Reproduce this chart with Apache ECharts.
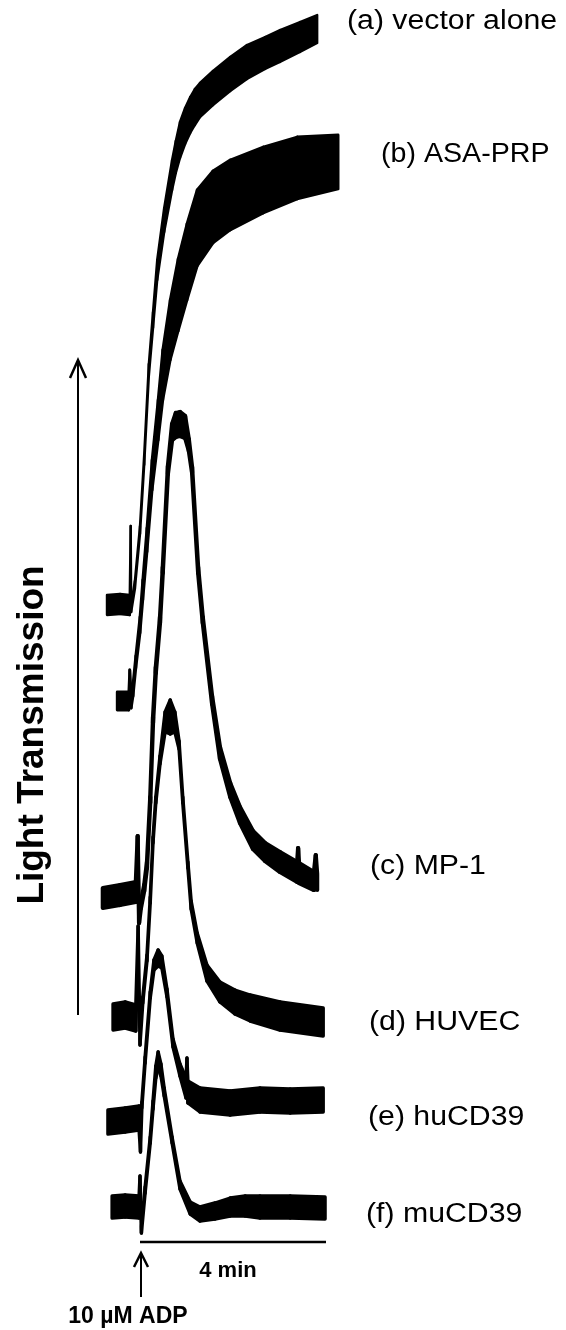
<!DOCTYPE html>
<html>
<head>
<meta charset="utf-8">
<script src="https://cdn.jsdelivr.net/npm/echarts@6/dist/echarts.min.js"></script>
<style>
  html, body { margin: 0; padding: 0; background: #fff; }
  #chart { width: 566px; height: 1330px; }
</style>
</head>
<body>
<div id="chart"></div>
<script>
// Time in minutes from ADP addition; transmission in arbitrary units; noise = half-width of the noisy band
const traceLabels = ['(a) vector alone', '(b) ASA-PRP', '(c) MP-1', '(d) HUVEC', '(e) huCD39', '(f) muCD39'];

const timeA  = [-0.71, -0.43, -0.22, -0.20, -0.19, -0.11, 0, 0.09, 0.19, 0.28, 0.37, 0.52, 0.69, 0.77, 0.86, 0.97, 1.08, 1.18, 1.29, 1.57, 1.94, 2.30, 2.69, 3.01, 3.44, 3.81];
const levelA = [64.5, 64.6, 64.5, 72.2, 64.2, 66.5, 72.0, 79.0, 88.0, 93.0, 98.0, 103.0, 107.5, 109.3, 111.0, 112.4, 113.5, 114.3, 115.0, 116.2, 117.6, 118.8, 119.7, 120.4, 121.3, 122.1];
const noiseA = [1.0, 1.0, 1.0, 0.2, 0.4, 0.4, 0.4, 0.5, 0.6, 0.8, 1.0, 1.2, 1.5, 1.6, 1.8, 1.8, 1.8, 1.8, 1.7, 1.7, 1.7, 1.7, 1.6, 1.6, 1.5, 1.4];

const timeB  = [-0.49, -0.24, -0.22, -0.19, -0.15, -0.09, 0, 0.06, 0.15, 0.26, 0.39, 0.49, 0.65, 0.82, 1.01, 1.23, 1.57, 1.94, 2.65, 3.38, 4.26];
const levelB = [54.9, 54.9, 57.8, 55.0, 56.0, 58.8, 62.5, 66.0, 71.0, 77.5, 83.0, 87.5, 92.0, 95.5, 98.8, 102.2, 104.3, 105.5, 107.0, 108.2, 108.8];
const noiseB = [0.9, 0.9, 0.2, 0.8, 0.6, 0.6, 0.8, 1.0, 1.2, 1.5, 2.0, 2.5, 3.0, 3.6, 3.8, 3.8, 3.6, 3.5, 3.3, 3.1, 2.7];

const timeC  = [-0.80, -0.43, -0.09, -0.05, -0.02, 0.02, 0.09, 0.15, 0.22, 0.28, 0.34, 0.43, 0.49, 0.60, 0.69, 0.77, 0.86, 0.97, 1.05, 1.12, 1.25, 1.35, 1.55, 1.72, 1.94, 2.15, 2.43, 2.69, 3.01, 3.38, 3.40, 3.42, 3.74, 3.78, 3.81];
const levelC = [35.2, 35.5, 35.8, 41.2, 33.0, 34.5, 36.2, 38.5, 45.0, 53.0, 58.0, 63.0, 68.0, 78.0, 81.8, 82.5, 82.6, 82.3, 80.5, 78.0, 68.0, 63.0, 55.0, 49.7, 46.0, 43.5, 41.0, 39.8, 38.8, 37.8, 40.0, 37.7, 36.9, 39.3, 36.8];
const noiseC = [1.0, 1.0, 1.0, 0.2, 0.3, 0.3, 0.3, 0.3, 0.3, 0.3, 0.3, 0.3, 0.3, 0.4, 0.8, 1.2, 1.2, 1.1, 0.6, 0.3, 0.3, 0.3, 0.4, 0.6, 0.7, 0.8, 0.9, 0.9, 1.0, 1.0, 0.2, 1.0, 0.9, 0.2, 0.8];

const timeD  = [-0.58, -0.32, -0.09, -0.04, 0, 0.06, 0.15, 0.22, 0.28, 0.34, 0.43, 0.54, 0.65, 0.75, 0.84, 0.92, 1.03, 1.10, 1.23, 1.44, 1.72, 2.04, 2.37, 3.01, 3.94];
const levelD = [23.3, 23.5, 23.2, 32.2, 20.8, 25.0, 29.2, 35.0, 41.0, 45.0, 49.0, 52.8, 53.3, 52.8, 50.5, 45.0, 38.5, 34.5, 31.2, 27.7, 25.8, 24.8, 24.2, 23.4, 22.8];
const noiseD = [1.3, 1.3, 1.3, 0.2, 0.3, 0.3, 0.3, 0.3, 0.3, 0.3, 0.4, 1.0, 1.7, 1.0, 0.4, 0.3, 0.3, 0.4, 0.5, 0.8, 1.0, 1.2, 1.3, 1.4, 1.4];

const timeE  = [-0.69, -0.32, -0.02, 0.01, 0.04, 0.11, 0.22, 0.30, 0.39, 0.47, 0.58, 0.71, 0.86, 0.99, 1.01, 1.03, 1.29, 1.94, 2.58, 3.23, 3.94];
const levelE = [12.8, 13.0, 13.2, 10.0, 14.5, 19.0, 25.5, 28.5, 29.2, 28.8, 25.7, 20.7, 18.0, 16.2, 19.0, 15.8, 15.0, 14.7, 15.0, 14.9, 15.0];
const noiseE = [1.2, 1.2, 1.2, 0.2, 0.3, 0.3, 0.3, 0.5, 0.8, 0.6, 0.4, 0.4, 0.6, 1.0, 0.2, 1.1, 1.2, 1.2, 1.2, 1.2, 1.2];

const timeF  = [-0.60, -0.32, -0.02, 0, 0.03, 0.11, 0.22, 0.28, 0.34, 0.39, 0.45, 0.52, 0.69, 0.86, 1.08, 1.29, 1.61, 1.94, 2.26, 2.58, 3.23, 3.98];
const levelF = [4.3, 4.4, 4.3, 7.2, 2.0, 6.0, 11.0, 14.5, 17.8, 19.0, 18.0, 15.8, 11.0, 6.5, 4.2, 3.6, 3.9, 4.3, 4.4, 4.3, 4.3, 4.2];
const noiseF = [1.1, 1.1, 1.1, 0.2, 0.3, 0.3, 0.3, 0.4, 0.6, 0.8, 0.6, 0.4, 0.3, 0.4, 0.6, 0.7, 0.8, 0.9, 1.0, 1.1, 1.1, 1.1];

// 4-minute scale bar
const scaleBarTime = [0, 4];
const scaleBarLevel = 0.8;

const traces = [
  [timeA, levelA, noiseA], [timeB, levelB, noiseB], [timeC, levelC, noiseC],
  [timeD, levelD, noiseD], [timeE, levelE, noiseE], [timeF, levelF, noiseF]
];
const strokeWidths = [2.4, 2.8, 4.2, 3.4, 3.4, 3.4];

// Each trace is drawn as a noisy band: consecutive samples form a quad between (level - noise) and (level + noise)
function bandSegments(t, lv, nz) {
  const out = [];
  for (let i = 0; i < t.length - 1; i++) {
    out.push([t[i], lv[i] - nz[i], lv[i] + nz[i], t[i + 1], lv[i + 1] - nz[i + 1], lv[i + 1] + nz[i + 1]]);
  }
  return out;
}

function makeRender(width) {
  return function (params, api) {
    const a = api.coord([api.value(0), api.value(1)]);
    const b = api.coord([api.value(0), api.value(2)]);
    const c = api.coord([api.value(3), api.value(5)]);
    const d = api.coord([api.value(3), api.value(4)]);
    return {
      type: 'polygon',
      shape: { points: [a, b, c, d] },
      style: { fill: '#000', stroke: '#000', lineWidth: width, lineJoin: 'round' }
    };
  };
}

const series = traces.map(function (tr, k) {
  return {
    type: 'custom', name: traceLabels[k], silent: true, clip: false,
    renderItem: makeRender(strokeWidths[k]),
    dimensions: ['t0', 'lo0', 'hi0', 't1', 'lo1', 'hi1'],
    encode: { x: [0, 3], y: [1, 2, 4, 5] },
    data: bandSegments(tr[0], tr[1], tr[2])
  };
});
series.push({
  type: 'line', name: '4 min', symbol: 'none', silent: true,
  data: scaleBarTime.map(function (x) { return [x, scaleBarLevel]; }),
  lineStyle: { color: '#000', width: 2.5 }
});

const labelFont = '27px "Liberation Sans", Arial, sans-serif';
const labelPos = [[347, 22], [381, 155], [370, 867], [369, 1023], [368, 1118], [366, 1215]];
const graphics = traceLabels.map(function (txt, i) {
  return {
    type: 'text', x: labelPos[i][0], y: labelPos[i][1], scaleX: i === 1 ? 1.06 : 1.12,
    style: { text: txt, font: labelFont, fill: '#000', textAlign: 'left', textVerticalAlign: 'middle' }
  };
});
graphics.push(
  { type: 'text', x: 33, y: 735, rotation: Math.PI / 2,
    style: { text: 'Light Transmission', font: 'bold 37px "Liberation Sans", Arial, sans-serif', fill: '#000', textAlign: 'center', textVerticalAlign: 'middle' } },
  { type: 'polyline', shape: { points: [[78, 1015], [78, 361]] }, style: { stroke: '#000', lineWidth: 2, fill: null } },
  { type: 'polyline', shape: { points: [[70, 378], [78, 360], [86, 378]] }, style: { stroke: '#000', lineWidth: 2.5, fill: null } },
  { type: 'polyline', shape: { points: [[141, 1297], [141, 1254]] }, style: { stroke: '#000', lineWidth: 2, fill: null } },
  { type: 'polyline', shape: { points: [[134, 1267], [141, 1253], [148, 1267]] }, style: { stroke: '#000', lineWidth: 2.5, fill: null } },
  { type: 'text', x: 228, y: 1271, style: { text: '4 min', font: 'bold 22px "Liberation Sans", Arial, sans-serif', fill: '#000', textAlign: 'center', textVerticalAlign: 'middle' } },
  { type: 'text', x: 128, y: 1317, style: { text: '10 µM ADP', font: 'bold 23px "Liberation Sans", Arial, sans-serif', fill: '#000', textAlign: 'center', textVerticalAlign: 'middle' } }
);

const chart = echarts.init(document.getElementById('chart'), null, { renderer: 'canvas' });
chart.setOption({
  animation: false,
  backgroundColor: '#fff',
  grid: { left: 93.5, right: 193.5, top: 0, bottom: 80 },
  xAxis: { type: 'value', min: -1, max: 5, show: false },
  yAxis: { type: 'value', min: 0, max: 125, show: false },
  series: series,
  graphic: graphics
});
</script>
</body>
</html>
